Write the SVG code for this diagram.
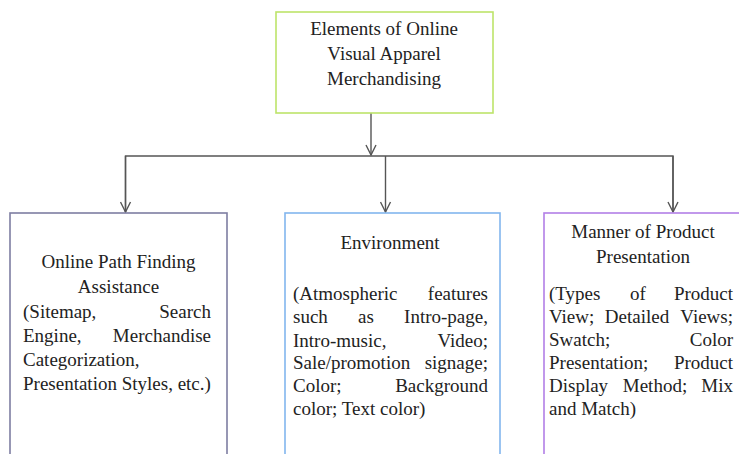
<svg xmlns="http://www.w3.org/2000/svg" width="739" height="454" viewBox="0 0 739 454" font-family="'Liberation Serif', 'Times New Roman', 'DejaVu Serif', serif">
<style>
text{font-family:'Liberation Serif','Times New Roman','DejaVu Serif',serif;font-size:19px;fill:#222}
.c{text-anchor:middle}
.e{text-anchor:end}
.box{fill:#fff;stroke-width:1.6}
.conn{stroke:#555;stroke-width:1.4;fill:none}
</style>
<defs>
<marker id="ah" viewBox="0 0 12 12" refX="11" refY="6" markerWidth="12" markerHeight="12" markerUnits="userSpaceOnUse" orient="auto">
<path d="M1,1 L11,6 L1,11" fill="none" stroke="#555" stroke-width="1.4"/>
</marker>
</defs>
<rect width="739" height="454" fill="#fff"/>
<g id="connectors">
<line class="conn" x1="371" y1="113" x2="371" y2="155" marker-end="url(#ah)"/>
<polyline class="conn" points="125.5,212 125.5,156 673,156 673,212"/>
<line class="conn" x1="125.5" y1="156" x2="125.5" y2="212" marker-end="url(#ah)"/>
<line class="conn" x1="385.5" y1="156" x2="385.5" y2="212" marker-end="url(#ah)"/>
<line class="conn" x1="673" y1="156" x2="673" y2="212" marker-end="url(#ah)"/>
</g>
<g id="root">
<rect class="box" x="276" y="12" width="217" height="101" stroke="#bde46a"/>
<text class="c" x="384" y="35">Elements of Online</text>
<text class="c" x="384" y="60">Visual Apparel</text>
<text class="c" x="384" y="85">Merchandising</text>
</g>
<g id="pathfinding">
<rect class="box" x="10" y="213" width="217" height="250" stroke="#7e7ea2"/>
<text class="c" x="118.5" y="268">Online Path Finding</text>
<text class="c" x="118.5" y="293">Assistance</text>
<text x="23" y="318">(Sitemap,</text><text class="e" x="211" y="318">Search</text>
<text x="23" y="342">Engine,</text><text class="e" x="211" y="342">Merchandise</text>
<text x="23" y="366">Categorization,</text>
<text x="23" y="390">Presentation Styles, etc.)</text>
</g>
<g id="environment">
<rect class="box" x="285" y="213" width="215" height="250" stroke="#82b6ee"/>
<text class="c" x="390" y="249">Environment</text>
<text x="293" y="300">(Atmospheric</text><text class="e" x="488" y="300">features</text>
<text x="293" y="323">such</text><text class="c" x="366" y="323">as</text><text class="e" x="488" y="323">Intro-page,</text>
<text x="293" y="347">Intro-music,</text><text class="e" x="488" y="347">Video;</text>
<text x="293" y="369">Sale/promotion</text><text class="e" x="488" y="369">signage;</text>
<text x="293" y="392">Color;</text><text class="e" x="488" y="392">Background</text>
<text x="293" y="415">color; Text color)</text>
</g>
<g id="presentation">
<rect class="box" x="544" y="213" width="210" height="250" stroke="#b27fe6"/>
<text class="c" x="643" y="238">Manner of Product</text>
<text class="c" x="643" y="263">Presentation</text>
<text x="549" y="300">(Types</text><text class="c" x="638" y="300">of</text><text class="e" x="733" y="300">Product</text>
<text x="549" y="323">View;</text><text class="c" x="637" y="323">Detailed</text><text class="e" x="733" y="323">Views;</text>
<text x="549" y="346">Swatch;</text><text class="e" x="733" y="346">Color</text>
<text x="549" y="369">Presentation;</text><text class="e" x="733" y="369">Product</text>
<text x="549" y="392">Display</text><text class="c" x="655" y="392">Method;</text><text class="e" x="733" y="392">Mix</text>
<text x="549" y="415">and Match)</text>
</g>
</svg>
